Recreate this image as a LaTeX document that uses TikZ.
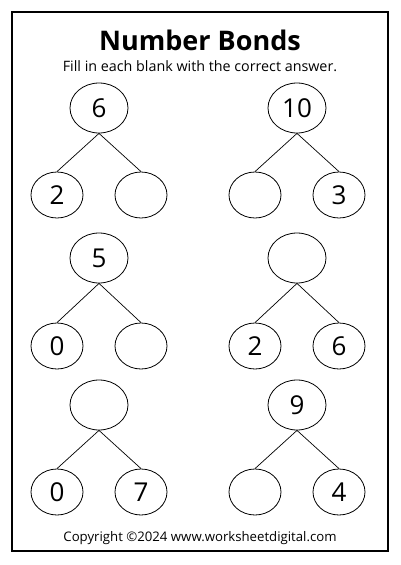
\documentclass[tikz,border=0pt]{standalone}
\usepackage{fontspec}
\setmainfont{Open Sans}
\usetikzlibrary{shapes.geometric}
\begin{document}
\begin{tikzpicture}[x=1pt,y=-1pt,
  topbub/.style={draw=black,line width=0.8pt,ellipse,minimum width=58pt,minimum height=50pt,inner sep=0pt,font=\fontsize{26}{30}\selectfont},
  kidbub/.style={draw=black,line width=0.8pt,ellipse,minimum width=52pt,minimum height=46pt,inner sep=0pt,font=\fontsize{26}{30}\selectfont},
  bond/.style={draw=black,line width=0.7pt}]
\useasboundingbox (0,0) rectangle (400,565);
\draw[line width=1.8pt] (12,12) rectangle (388,551);
\node[font=\fontsize{27}{32}\selectfont\bfseries] (title) at (200,40) {Number Bonds};
\node[font=\fontsize{14.3}{17}\selectfont] (sub) at (200,66) {Fill in each blank with the correct answer.};
% tree 1
\node[topbub] (t1) at (99,108) {6};
\node[kidbub] (l1) at (57,195) {2};
\node[kidbub] (r1) at (141,195) {};
% tree 2
\node[topbub] (t2) at (297,108) {10};
\node[kidbub] (l2) at (255,195) {};
\node[kidbub] (r2) at (339,195) {3};
% tree 3
\node[topbub] (t3) at (99,258) {5};
\node[kidbub] (l3) at (57,346) {0};
\node[kidbub] (r3) at (141,346) {};
% tree 4
\node[topbub] (t4) at (297,258) {};
\node[kidbub] (l4) at (255,346) {2};
\node[kidbub] (r4) at (339,346) {6};
% tree 5
\node[topbub] (t5) at (99,405) {};
\node[kidbub] (l5) at (57,492) {0};
\node[kidbub] (r5) at (141,492) {7};
% tree 6
\node[topbub] (t6) at (297,405) {9};
\node[kidbub] (l6) at (255,492) {};
\node[kidbub] (r6) at (339,492) {4};
\foreach \i in {1,...,6}{
  \draw[bond] (t\i.south) -- (l\i.north);
  \draw[bond] (t\i.south) -- (r\i.north);
}
\node[font=\fontsize{13.2}{16}\selectfont] (copy) at (200,538) {Copyright ©2024 www.worksheetdigital.com};
\end{tikzpicture}
\end{document}
